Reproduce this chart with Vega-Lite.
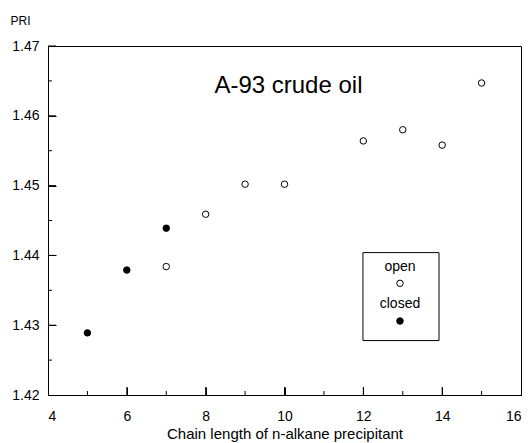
{
  "$schema": "https://vega.github.io/schema/vega-lite/v6.json",
  "width": 473,
  "height": 349,
  "autosize": {"type": "none"},
  "padding": {"left": 48, "top": 46, "right": 11, "bottom": 48},
  "background": "white",
  "config": {
    "font": "Liberation Sans",
    "view": {"stroke": "black", "strokeWidth": 1}
  },
  "datasets": {
    "points": [
      {"n": 5, "p": 1.4289, "state": "closed"},
      {"n": 6, "p": 1.4379, "state": "closed"},
      {"n": 7, "p": 1.4439, "state": "closed"},
      {"n": 7, "p": 1.4384, "state": "open"},
      {"n": 8, "p": 1.4459, "state": "open"},
      {"n": 9, "p": 1.4502, "state": "open"},
      {"n": 10, "p": 1.4502, "state": "open"},
      {"n": 12, "p": 1.4564, "state": "open"},
      {"n": 13, "p": 1.458, "state": "open"},
      {"n": 14, "p": 1.4558, "state": "open"},
      {"n": 15, "p": 1.4647, "state": "open"}
    ],
    "box": [{"x1": 11.99, "x2": 13.92, "y1": 1.4278, "y2": 1.4404}],
    "legendText": [
      {"x": 12.93, "y": 1.4383, "t": "open"},
      {"x": 12.93, "y": 1.4331, "t": "closed"}
    ],
    "legendPts": [
      {"x": 12.93, "y": 1.436, "state": "open"},
      {"x": 12.93, "y": 1.4306, "state": "closed"}
    ],
    "title": [{"x": 10.1, "y": 1.4642, "t": "A-93 crude oil"}],
    "xMajor": [{"v": 6}, {"v": 8}, {"v": 10}, {"v": 12}, {"v": 14}],
    "xMinor": [{"v": 5}, {"v": 7}, {"v": 9}, {"v": 11}, {"v": 13}, {"v": 15}],
    "yMajor": [{"v": 1.43}, {"v": 1.44}, {"v": 1.45}, {"v": 1.46}, {"v": 1.47}],
    "yMinor": [{"v": 1.425}, {"v": 1.435}, {"v": 1.445}, {"v": 1.455}, {"v": 1.465}]
  },
  "layer": [
    {
      "data": {"name": "box"},
      "mark": {"type": "rect", "fill": "white", "stroke": "black", "strokeWidth": 1},
      "encoding": {
        "x": {"field": "x1", "type": "quantitative", "scale": {"domain": [4, 16]},
          "axis": {
            "values": [4, 6, 8, 10, 12, 14, 16],
            "ticks": true, "tickSize": -8,
            "tickColor": "black", "tickWidth": 1, "domainColor": "black",
            "labelColor": "black", "labelFontSize": 14, "labelPadding": 22,
            "grid": false, "title": "Chain length of n-alkane precipitant",
            "titleFontSize": 15, "titleFontWeight": "normal", "titleColor": "black", "titlePadding": 3
          }},
        "x2": {"field": "x2"},
        "y": {"field": "y1", "type": "quantitative", "scale": {"domain": [1.42, 1.47]},
          "axis": {
            "values": [1.42, 1.43, 1.44, 1.45, 1.46, 1.47],
            "format": ".2f",
            "ticks": true, "tickSize": -8,
            "tickColor": "black", "tickWidth": 1, "domainColor": "black",
            "labelColor": "black", "labelFontSize": 14, "labelPadding": 17,
            "grid": false, "title": "PRI", "titleAngle": 0, "titleAlign": "left", "titleBaseline": "alphabetic",
            "titleX": -38, "titleY": -22, "titleFontSize": 12, "titleFontWeight": "normal", "titleColor": "black"
          }},
        "y2": {"field": "y2"}
      }
    },
    {
      "data": {"name": "xMajor"},
      "mark": {"type": "tick", "orient": "vertical", "color": "black", "opacity": 1, "size": 8, "thickness": 1, "yOffset": -4},
      "encoding": {
        "x": {"field": "v", "type": "quantitative"},
        "y": {"datum": 1.42, "type": "quantitative"}
      }
    },
    {
      "data": {"name": "xMinor"},
      "mark": {"type": "tick", "orient": "vertical", "color": "black", "opacity": 1, "size": 4, "thickness": 1, "yOffset": -2},
      "encoding": {
        "x": {"field": "v", "type": "quantitative"},
        "y": {"datum": 1.42, "type": "quantitative"}
      }
    },
    {
      "data": {"name": "yMajor"},
      "mark": {"type": "tick", "orient": "horizontal", "color": "black", "opacity": 1, "size": 8, "thickness": 1, "xOffset": 4},
      "encoding": {
        "y": {"field": "v", "type": "quantitative"},
        "x": {"datum": 4, "type": "quantitative"}
      }
    },
    {
      "data": {"name": "yMinor"},
      "mark": {"type": "tick", "orient": "horizontal", "color": "black", "opacity": 1, "size": 4, "thickness": 1, "xOffset": 2},
      "encoding": {
        "y": {"field": "v", "type": "quantitative"},
        "x": {"datum": 4, "type": "quantitative"}
      }
    },
    {
      "data": {"name": "legendPts"},
      "mark": {"type": "point", "shape": "circle", "size": 42, "stroke": "black", "strokeWidth": 1, "opacity": 1},
      "encoding": {
        "x": {"field": "x", "type": "quantitative"},
        "y": {"field": "y", "type": "quantitative"},
        "fill": {"field": "state", "type": "nominal", "scale": {"domain": ["open", "closed"], "range": ["white", "black"]}, "legend": null}
      }
    },
    {
      "data": {"name": "points"},
      "mark": {"type": "point", "shape": "circle", "size": 42, "stroke": "black", "strokeWidth": 1, "opacity": 1},
      "encoding": {
        "x": {"field": "n", "type": "quantitative"},
        "y": {"field": "p", "type": "quantitative"},
        "fill": {"field": "state", "type": "nominal", "legend": null}
      }
    },
    {
      "data": {"name": "legendText"},
      "mark": {"type": "text", "fontSize": 14, "color": "black", "align": "center", "baseline": "middle"},
      "encoding": {
        "x": {"field": "x", "type": "quantitative"},
        "y": {"field": "y", "type": "quantitative"},
        "text": {"field": "t"}
      }
    },
    {
      "data": {"name": "title"},
      "mark": {"type": "text", "fontSize": 24, "color": "black", "align": "center", "baseline": "middle"},
      "encoding": {
        "x": {"field": "x", "type": "quantitative"},
        "y": {"field": "y", "type": "quantitative"},
        "text": {"field": "t"}
      }
    }
  ]
}
